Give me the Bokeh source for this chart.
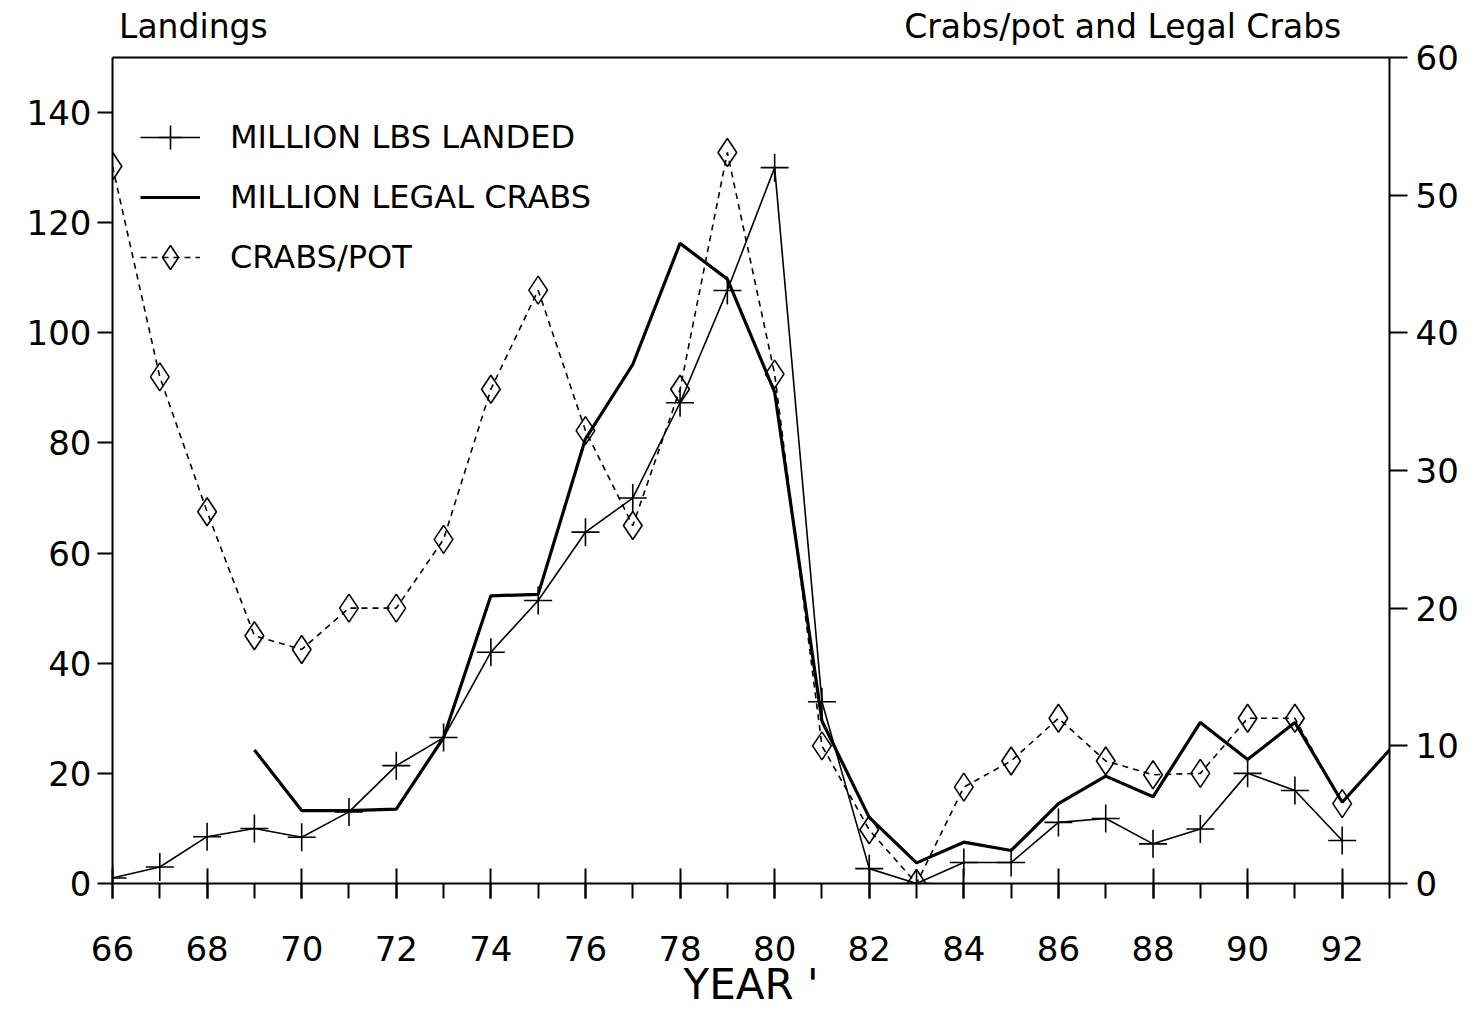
from bokeh.plotting import figure
from bokeh.models import (Range1d, LinearAxis, SingleIntervalTicker, FixedTicker,
                          Legend, LegendItem)
from bokeh.embed import file_html
from bokeh.resources import INLINE

# ---- data ----
years_landed = list(range(66, 93))
lbs_landed = [1, 3, 8.5, 10, 8.4, 13, 21.4, 26.5, 42, 51.4, 63.8, 70, 87.3,
              107.7, 130, 33, 2.7, 0, 3.8, 3.8, 11.1, 11.8, 7.2, 9.9, 20,
              16.9, 7.8]

years_legal = list(range(69, 94))
legal_crabs = [9.7, 5.3, 5.3, 5.4, 10.6, 20.9, 21.0, 32.3, 37.7, 46.5, 43.9,
               35.7, 11.8, 4.8, 1.5, 3.0, 2.4, 5.8, 7.8, 6.3, 11.7, 9.0, 11.7,
               5.9, 9.7]

years_pot = list(range(66, 93))
crabs_pot = [52.1, 36.8, 27.0, 18.0, 17.0, 20.0, 20.0, 25.0, 35.9, 43.1,
             32.9, 26.0, 35.9, 53.1, 37.0, 10.0, 3.9, 0, 7.0, 8.9, 12.0, 8.9,
             7.9, 8.0, 12.0, 12.0, 5.8]

left_title = "Landings"
right_title = "Crabs/pot and Legal Crabs"
x_title = "YEAR '"

FONT = "DejaVu Sans"

p = figure(width=1478, height=1017, output_backend="svg", toolbar_location=None,
           x_range=Range1d(66, 93), y_range=Range1d(0, 150),
           min_border_left=112, min_border_right=89, min_border_top=57,
           min_border_bottom=134)
p.extra_y_ranges = {"right": Range1d(0, 60)}
p.outline_line_color = None
p.xgrid.visible = False
p.ygrid.visible = False
p.background_fill_color = "white"
p.border_fill_color = "white"

# x axis
xa = p.xaxis[0]
xa.ticker = SingleIntervalTicker(interval=2, num_minor_ticks=2)
xa.major_tick_in = 15
xa.major_tick_out = 15
xa.minor_tick_in = 0
xa.minor_tick_out = 15
xa.major_tick_line_width = 2
xa.minor_tick_line_width = 2
xa.axis_line_width = 2
xa.major_label_standoff = 37
xa.major_label_text_font = FONT
xa.major_label_text_font_size = "34px"
xa.major_label_text_color = "black"
xa.major_tick_line_color = "black"
xa.minor_tick_line_color = "black"
xa.axis_line_color = "black"
xa.axis_label = x_title
xa.axis_label_text_font = FONT
xa.axis_label_text_font_size = "42px"
xa.axis_label_text_font_style = "normal"
xa.axis_label_text_color = "black"
xa.axis_label_standoff = -4

# left axis
ya = p.yaxis[0]
ya.ticker = SingleIntervalTicker(interval=20, num_minor_ticks=0)
ya.major_tick_in = 0
ya.major_tick_out = 15
ya.minor_tick_line_color = None
ya.major_tick_line_width = 2
ya.axis_line_width = 2
ya.major_label_standoff = 6
ya.major_label_text_font = FONT
ya.major_label_text_font_size = "34px"
ya.major_label_text_color = "black"
ya.axis_line_color = "black"
ya.major_tick_line_color = "black"

# right axis
ra = LinearAxis(y_range_name="right",
                ticker=SingleIntervalTicker(interval=10, num_minor_ticks=0))
ra.major_tick_in = 0
ra.major_tick_out = 18
ra.minor_tick_line_color = None
ra.major_tick_line_width = 2
ra.axis_line_width = 2
ra.major_label_standoff = 8
ra.major_label_text_font = FONT
ra.major_label_text_font_size = "34px"
ra.major_label_text_color = "black"
ra.axis_line_color = "black"
ra.major_tick_line_color = "black"
p.add_layout(ra, "right")

# top border line carrying the two headings
title_pos = [67.71, 87.36]
ta = LinearAxis(ticker=FixedTicker(ticks=title_pos),
                major_label_overrides={title_pos[0]: left_title,
                                       title_pos[1]: right_title})
ta.major_tick_in = 0
ta.major_tick_out = 0
ta.minor_tick_line_color = None
ta.major_tick_line_color = None
ta.axis_line_width = 2
ta.axis_line_color = "black"
ta.major_label_standoff = 12
ta.major_label_text_font = FONT
ta.major_label_text_font_size = "33px"
ta.major_label_text_color = "black"
p.add_layout(ta, "above")

# series
l1 = p.line(years_landed, lbs_landed, line_color="black", line_width=1.6)
s1 = p.scatter(years_landed, lbs_landed, marker="cross", size=28,
               line_color="black", line_width=1.6)

l2 = p.line(years_legal, legal_crabs, line_color="black", line_width=3.2,
            y_range_name="right")

l3 = p.line(years_pot, crabs_pot, line_color="black", line_width=1.6,
            line_dash="6 5", y_range_name="right")
s3 = p.scatter(years_pot, crabs_pot, marker="diamond", size=28,
               line_color="black", line_width=1.6,
               fill_color="white", fill_alpha=0, y_range_name="right")

legend = Legend(items=[
    LegendItem(label="MILLION LBS LANDED", renderers=[l1, s1]),
    LegendItem(label="MILLION LEGAL CRABS", renderers=[l2]),
    LegendItem(label="CRABS/POT", renderers=[l3, s3]),
], location=(28, 596))
legend.glyph_width = 60
legend.glyph_height = 60
legend.label_height = 60
legend.spacing = 0
legend.padding = 0
legend.margin = 0
legend.label_standoff = 30
legend.border_line_color = None
legend.background_fill_alpha = 0
legend.label_text_font = FONT
legend.label_text_font_size = "32px"
legend.label_text_color = "black"
p.add_layout(legend)

open("out.html", "w").write(file_html(p, INLINE))
